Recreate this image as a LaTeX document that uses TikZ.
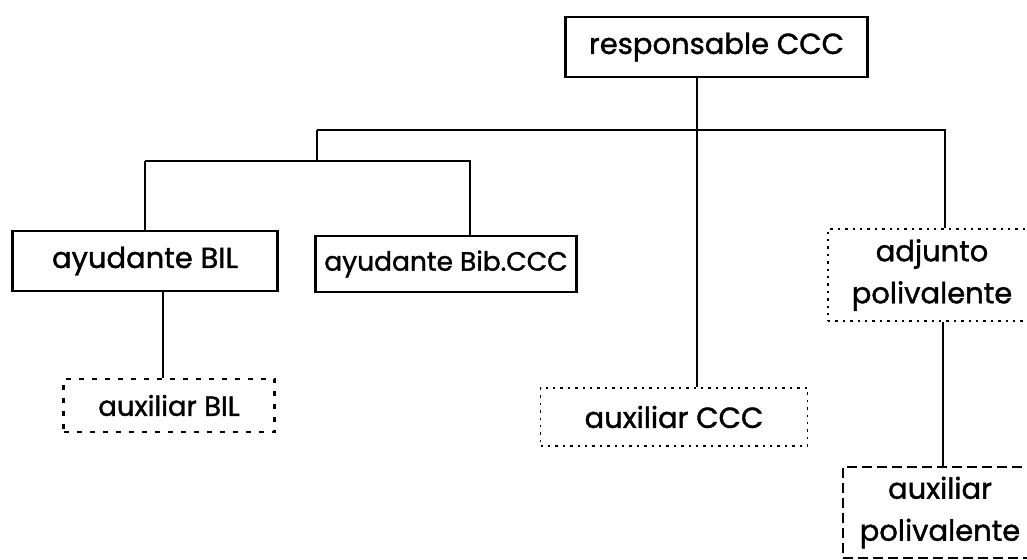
\documentclass[tikz,border=0pt]{standalone}
\usepackage{fontspec}
\setmainfont{Poppins}[FakeBold=1.3]
\begin{document}
\begin{tikzpicture}[x=1pt,y=-1pt,
  every node/.style={font=\fontsize{29}{42}\selectfont, inner sep=0pt, align=center, anchor=center},
  smalltext/.style={font=\fontsize{26.5}{40}\selectfont},
  midtext/.style={font=\fontsize{27.5}{40}\selectfont},
  solidbox/.style={draw, line width=2.4pt},
  dotbox/.style={draw, line width=1.7pt, dash pattern=on 2.4pt off 5pt},
  dashbox/.style={draw, line width=2.4pt, dash pattern=on 5pt off 8pt},
  longdash/.style={draw, line width=1.7pt, dash pattern=on 10pt off 5pt},
  conn/.style={line width=2.6pt}]
\useasboundingbox (0,0) rectangle (1027,559);
\clip (0,0) rectangle (1027,559);
\node[solidbox, minimum width=302pt, minimum height=60pt] (resp) at (716.5,47) {responsable CCC};
\node[solidbox, minimum width=265pt, minimum height=60pt] (aybil) at (145,261) {ayudante BIL};
\node[solidbox, smalltext, minimum width=261pt, minimum height=56pt] (aybib) at (446,264) {ayudante Bib.CCC};
\node[dashbox, midtext, minimum width=211pt, minimum height=53pt] (auxbil) at (169,405.5) {auxiliar BIL};
\node[dotbox, minimum width=267pt, minimum height=58pt] (auxccc) at (674,417) {auxiliar CCC};
\node[dotbox, minimum width=208pt, minimum height=92pt] (adj) at (932,275) {adjunto\\polivalente};
\node[longdash, minimum width=194pt, minimum height=91pt] (auxpol) at (940,512.5) {auxiliar\\polivalente};
% connectors
\draw[conn] (resp.south) ++(-19.5,0) coordinate (rv) -- (rv |- auxccc.north);
\coordinate (bus) at (317,130);
\coordinate (bus2) at (317,161);
\draw[conn] (bus) -- (bus -| 945,0) coordinate (br) -- (br |- adj.north);
\draw[conn] (bus) -- (bus2);
\draw[conn] (bus2 -| aybil.north) -- (bus2 -| 470,0) coordinate (bb) -- (bb |- aybib.north);
\draw[conn] (bus2 -| aybil.north) -- (aybil.north);
\draw[conn] (aybil.south) ++(18,0) coordinate (lv) -- (lv |- auxbil.north);
\draw[conn] (adj.south) ++(11,0) coordinate (av) -- (av |- auxpol.north);
\end{tikzpicture}
\end{document}
